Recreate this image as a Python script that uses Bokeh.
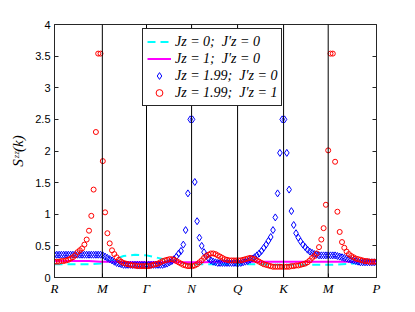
import numpy as np
from bokeh.plotting import figure
from bokeh.models import LinearAxis, FixedTicker, Range1d, Legend, LegendItem, Span
from bokeh.embed import file_html
from bokeh.resources import INLINE

# --- tick positions / labels along the k-path ---
tick_pos = [0, 1.04, 2.0, 2.98, 3.98, 4.98, 5.95, 7.0]
tick_labels = ["R", "M", "Γ", "N", "Q", "K", "M", "P"]
y_ticks = [0, 0.5, 1, 1.5, 2, 2.5, 3, 3.5, 4]
y_tick_labels = ["0", "0.5", "1", "1.5", "2", "2.5", "3", "3.5", "4"]

# sampling of the path (dense for markers, coarse for lines)
k_dense = [round(0.05 * i, 2) for i in range(141)]
k_coarse = [round(0.25 * i, 2) for i in range(29)]

# Jz = 0; J'z = 0  (cyan dashed)
s_jz0 = [0.21, 0.21, 0.21, 0.21, 0.22, 0.27, 0.34, 0.36, 0.35, 0.31, 0.27, 0.23,
         0.21, 0.21, 0.21, 0.21, 0.21, 0.21, 0.21, 0.20, 0.20, 0.20, 0.20, 0.20,
         0.20, 0.21, 0.22, 0.24, 0.26]

# Jz = 1; J'z = 0  (magenta solid)
s_jz1 = [0.26, 0.26, 0.26, 0.26, 0.25, 0.25, 0.24, 0.24, 0.24, 0.24, 0.24, 0.24,
         0.24, 0.24, 0.25, 0.25, 0.25, 0.25, 0.25, 0.25, 0.25, 0.25, 0.25, 0.25,
         0.25, 0.25, 0.25, 0.25, 0.25]

# Jz = 1.99; J'z = 0  (blue diamonds)
s_jz199_a = [0.36] * 20 + [
    0.36, 0.35, 0.33, 0.31, 0.29, 0.27, 0.25, 0.23, 0.22, 0.21, 0.20] + [0.20] * 17 + [
    0.21, 0.22, 0.24, 0.26, 0.29, 0.33, 0.38, 0.42, 0.52, 0.75, 1.33, 2.50,
    2.50, 1.51, 0.89, 0.63, 0.50, 0.40, 0.34, 0.30, 0.27, 0.25, 0.24, 0.23] + [0.23] * 10 + [
    0.24, 0.25, 0.26, 0.28, 0.30, 0.32, 0.35, 0.38, 0.42, 0.47, 0.52, 0.58,
    0.64, 0.75, 0.95, 1.33, 1.97, 2.50, 2.50, 1.97, 1.39, 1.05, 0.83, 0.70,
    0.63, 0.57, 0.52, 0.48, 0.44, 0.41, 0.39, 0.37, 0.36] + [0.35] * 8 + [
    0.34, 0.33, 0.32, 0.31, 0.30, 0.29, 0.28, 0.27, 0.26, 0.25] + [0.24] * 8

# Jz = 1.99; J'z = 1  (red circles)
s_jz199_b = [
    0.25, 0.25, 0.25, 0.26, 0.26, 0.27, 0.28, 0.30, 0.32, 0.35, 0.40, 0.43,
    0.46, 0.52, 0.60, 0.74, 0.975, 1.39, 2.30, 3.54, 3.54, 1.84, 1.03, 0.70,
    0.54, 0.43, 0.37, 0.32, 0.28, 0.25, 0.23, 0.22, 0.21, 0.20, 0.19, 0.19,
    0.18, 0.18, 0.18, 0.18, 0.18, 0.18, 0.19, 0.20, 0.21, 0.22, 0.24, 0.26,
    0.27, 0.28, 0.29, 0.29, 0.28, 0.26, 0.24, 0.22, 0.20, 0.19, 0.18, 0.18,
    0.18, 0.19, 0.21, 0.24, 0.27, 0.31, 0.34, 0.36, 0.38, 0.38, 0.37, 0.35,
    0.33, 0.31, 0.29, 0.28, 0.27, 0.27, 0.27, 0.27, 0.27, 0.27, 0.28, 0.29,
    0.30, 0.31, 0.30, 0.29, 0.27, 0.25, 0.23, 0.21, 0.20, 0.19, 0.18, 0.17,
    0.17, 0.17, 0.17, 0.17, 0.17, 0.17, 0.17, 0.18, 0.18, 0.19, 0.19, 0.20,
    0.21, 0.22, 0.24, 0.27, 0.31, 0.34, 0.38, 0.48, 0.60, 0.78, 1.15, 2.01,
    3.54, 3.54, 1.83, 1.04, 0.72, 0.56, 0.47, 0.41, 0.37, 0.34, 0.32, 0.30,
    0.29, 0.28, 0.27, 0.26, 0.26, 0.25, 0.25, 0.25, 0.25]

legend_labels = ["Jz = 0;  J′z = 0", "Jz = 1;  J′z = 0",
                 "Jz = 1.99;  J′z = 0", "Jz = 1.99;  J′z = 1"]

AX = "#262626"

p = figure(width=415, height=312, x_range=Range1d(0, 7), y_range=Range1d(0, 4),
           output_backend="svg", toolbar_location=None,
           min_border_left=54, min_border_right=39, min_border_top=24, min_border_bottom=35)
p.xgrid.visible = False
p.ygrid.visible = False
p.outline_line_color = AX
p.outline_line_alpha = 1
p.outline_line_width = 1
p.background_fill_color = "white"
p.border_fill_color = "white"

# x axis
xa = p.xaxis[0]
xa.ticker = FixedTicker(ticks=tick_pos)
xa.major_label_overrides = {t: l for t, l in zip(tick_pos, tick_labels)}
xa.major_label_text_font = "Liberation Serif"
xa.major_label_text_font_style = "italic"
xa.major_label_text_font_size = "13px"
xa.major_label_text_color = "black"
xa.major_tick_in = 4
xa.major_tick_out = 0
xa.minor_tick_line_color = None
xa.axis_line_color = AX
xa.major_tick_line_color = AX
xa.major_label_standoff = 3

# y axis
ya = p.yaxis[0]
ya.ticker = FixedTicker(ticks=y_ticks)
ya.major_label_overrides = {t: l for t, l in zip(y_ticks, y_tick_labels)}
ya.major_label_text_font = "Liberation Sans"
ya.major_label_text_font_size = "11px"
ya.major_label_text_color = "black"
ya.major_tick_in = 4
ya.major_tick_out = 0
ya.minor_tick_line_color = None
ya.axis_line_color = AX
ya.major_tick_line_color = AX
ya.major_label_standoff = 4
ya.axis_label = "Sᶻᶻ(k)"
ya.axis_label_text_font = "Liberation Serif"
ya.axis_label_text_font_style = "italic"
ya.axis_label_text_font_size = "15px"
ya.axis_label_text_color = "black"
ya.axis_label_standoff = 6

# right axis (ticks only, no labels)
ra = LinearAxis(ticker=FixedTicker(ticks=y_ticks))
ra.major_label_overrides = {t: "" for t in y_ticks}
ra.major_tick_in = 4
ra.major_tick_out = 0
ra.minor_tick_line_color = None
ra.axis_line_color = AX
ra.major_tick_line_color = AX
ra.major_label_standoff = 0
p.add_layout(ra, "right")

# series
r0 = p.line(k_coarse, s_jz0, line_color="#00FFFF", line_width=2, line_dash="8 5")
r1 = p.line(k_coarse, s_jz1, line_color="#FF00FF", line_width=2)
r2 = p.scatter(k_dense, s_jz199_a, marker="diamond", size=7, line_color="#0000FF",
               fill_color=None, line_width=1)
r3 = p.scatter(k_dense, s_jz199_b, marker="circle", size=5, line_color="#FF0000",
               fill_color=None, line_width=1)

# vertical lines at high-symmetry points
for t in tick_pos[1:-1]:
    p.add_layout(Span(location=t, dimension="height", line_color="black", line_width=1))

legend = Legend(items=[LegendItem(label=lab, renderers=[r])
                       for lab, r in zip(legend_labels, [r0, r1, r2, r3])],
                location=(88, 171))
legend.border_line_color = AX
legend.border_line_width = 1
legend.border_line_alpha = 1
legend.background_fill_color = "white"
legend.background_fill_alpha = 1
legend.label_text_font = "Liberation Serif"
legend.label_text_font_style = "italic"
legend.label_text_font_size = "14px"
legend.label_text_color = "black"
legend.glyph_width = 24
legend.glyph_height = 17
legend.label_height = 17
legend.label_standoff = 4
legend.spacing = 0
legend.padding = 4
legend.margin = 0
p.add_layout(legend)

open("out.html", "w").write(file_html(p, INLINE))
